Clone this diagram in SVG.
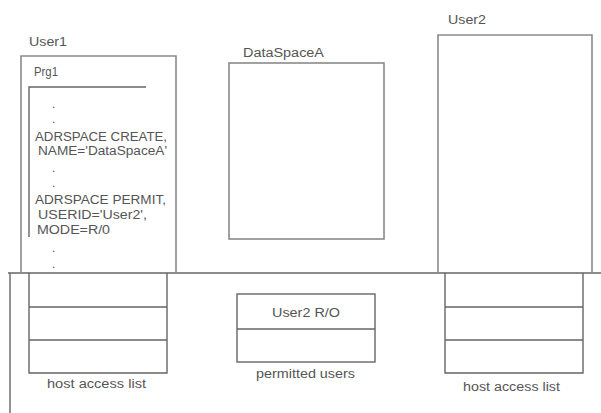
<svg xmlns="http://www.w3.org/2000/svg" width="601" height="413" viewBox="0 0 601 413">
<style>
.box{fill:none;stroke:#8a8a8a;stroke-width:1.6}
.dk{fill:none;stroke:#666;stroke-width:1.4}
.t{font-family:"Liberation Sans",Arial,sans-serif;font-size:12px;fill:#555}
</style>
<rect width="601" height="413" fill="#fff"/>
<g id="connectors">
<path class="dk" d="M8 273H601M10 273V413"/>
</g>
<g id="user1">
<path class="box" d="M21 273V56H176V273"/>
<text class="t" x="29" y="45.5" textLength="38" lengthAdjust="spacingAndGlyphs">User1</text>
</g>
<g id="prg1">
<text class="t" x="34" y="76" textLength="24" lengthAdjust="spacingAndGlyphs">Prg1</text>
<path class="dk" d="M29 237V87H146"/>
<text class="t" x="52" y="108">.</text>
<text class="t" x="52" y="123">.</text>
<text class="t" x="35" y="141" textLength="132" lengthAdjust="spacingAndGlyphs">ADRSPACE CREATE,</text>
<text class="t" x="38" y="155" textLength="129" lengthAdjust="spacingAndGlyphs">NAME='DataSpaceA'</text>
<text class="t" x="52" y="172">.</text>
<text class="t" x="52" y="187">.</text>
<text class="t" x="35" y="204" textLength="131" lengthAdjust="spacingAndGlyphs">ADRSPACE PERMIT,</text>
<text class="t" x="38" y="219" textLength="109" lengthAdjust="spacingAndGlyphs">USERID='User2',</text>
<text class="t" x="37" y="234" textLength="73" lengthAdjust="spacingAndGlyphs">MODE=R/0</text>
<text class="t" x="52" y="252">.</text>
<text class="t" x="52" y="268">.</text>
</g>
<g id="dataspacea">
<rect class="box" x="229" y="63" width="155" height="176"/>
<text class="t" x="243" y="57" textLength="81" lengthAdjust="spacingAndGlyphs">DataSpaceA</text>
</g>
<g id="user2">
<path class="box" d="M438 273V35H592V273"/>
<text class="t" x="448" y="24" textLength="38" lengthAdjust="spacingAndGlyphs">User2</text>
</g>
<g id="hostlist1">
<path class="dk" d="M29 273V373H167V273M29 307H167M29 340H167"/>
<text class="t" x="47" y="388" textLength="99" lengthAdjust="spacingAndGlyphs">host access list</text>
</g>
<g id="permitted">
<rect class="dk" x="237" y="294" width="138" height="68"/>
<path class="dk" d="M237 329H375"/>
<text class="t" x="272" y="317" textLength="68" lengthAdjust="spacingAndGlyphs">User2 R/O</text>
<text class="t" x="256" y="378" textLength="99" lengthAdjust="spacingAndGlyphs">permitted users</text>
</g>
<g id="hostlist2">
<path class="dk" d="M445 273V373H583V273M445 307H583M445 340H583"/>
<text class="t" x="463" y="391" textLength="97" lengthAdjust="spacingAndGlyphs">host access list</text>
</g>
</svg>
